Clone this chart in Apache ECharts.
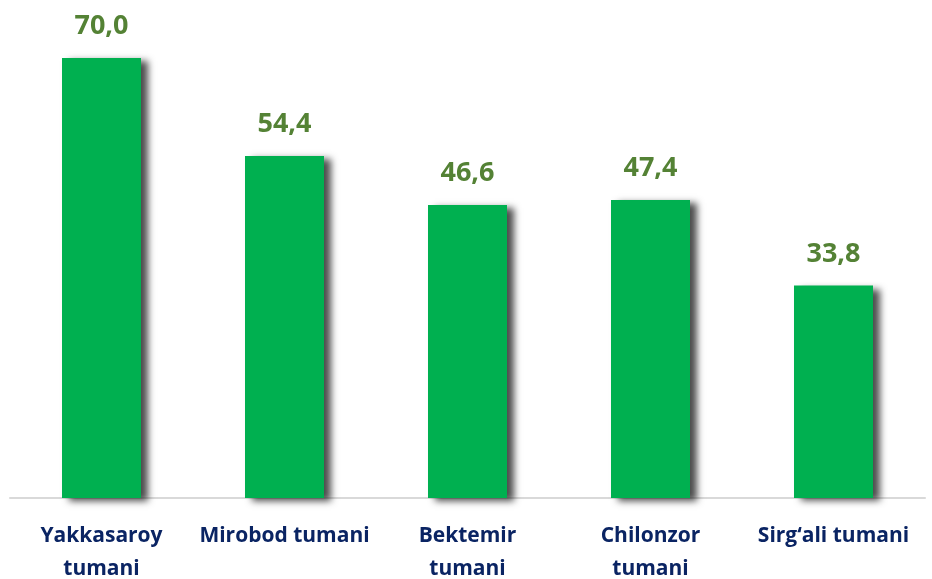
<!DOCTYPE html>
<html>
<head>
<meta charset="utf-8">
<script src="https://cdn.jsdelivr.net/npm/echarts@6/dist/echarts.min.js"></script>
<style>
  html, body { margin: 0; padding: 0; background: #fff; }
  #chart { width: 932px; height: 579px; }
</style>
</head>
<body>
<div id="chart"></div>
<script>
// tuman nomlari va qiymatlar
var categories = ['Yakkasaroy\ntumani', 'Mirobod tumani', 'Bektemir\ntumani', 'Chilonzor\ntumani', 'Sirg\u2018ali tumani'];
var values = [70.0, 54.4, 46.6, 47.4, 33.8];

var myChart = echarts.init(document.getElementById('chart'));
var option = {
  animation: false,
  grid: { left: 10, right: 7, top: 58, bottom: 81, outerBoundsMode: 'none', containLabel: false },
  xAxis: {
    type: 'category',
    data: categories,
    axisLine: { lineStyle: { color: '#d9d9d9', width: 2 } },
    axisTick: { show: false },
    axisLabel: {
      interval: 0,
      margin: 22,
      color: '#0a2463',
      fontFamily: 'Open Sans',
      fontWeight: 'bold',
      fontSize: 21,
      lineHeight: 33
    }
  },
  yAxis: {
    type: 'value',
    min: 0,
    max: 70,
    show: false,
    splitLine: { show: false }
  },
  series: [{
    type: 'bar',
    data: values,
    barWidth: 79,
    itemStyle: {
      color: '#00b050',
      shadowColor: 'rgba(0,0,0,0.7)',
      shadowBlur: 7,
      shadowOffsetX: 7,
      shadowOffsetY: 3
    },
    label: {
      show: true,
      position: 'top',
      distance: 18,
      color: '#548235',
      fontFamily: 'Open Sans',
      fontWeight: 'bold',
      fontSize: 27,
      formatter: function (p) { return p.value.toFixed(1).replace('.', ','); }
    }
  }]
};
myChart.setOption(option);
</script>
</body>
</html>
